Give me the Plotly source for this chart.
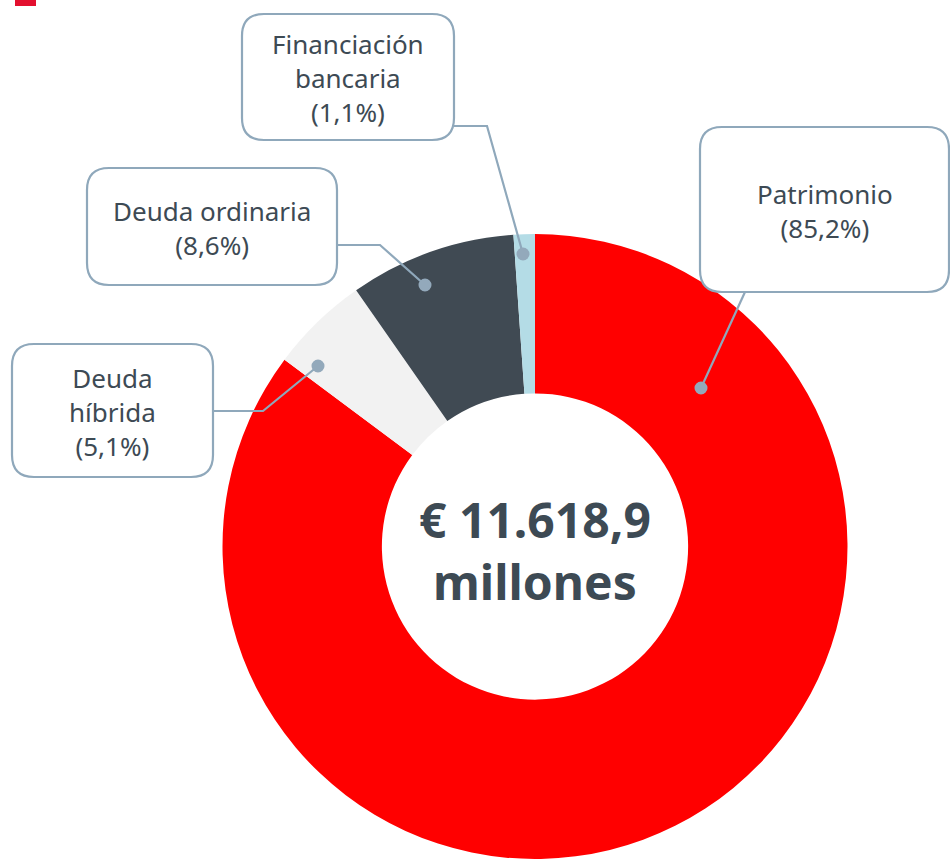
import plotly.graph_objects as go

# ---- data ----
categories = ["Patrimonio", "Deuda híbrida", "Deuda ordinaria", "Financiación bancaria"]
label_names = ["Patrimonio", "Deuda<br>híbrida", "Deuda ordinaria", "Financiación<br>bancaria"]
shares = [85.2, 5.1, 8.6, 1.1]
colors = ["#ff0000", "#f2f2f2", "#404a53", "#b4dce6"]
center_lines = ["€ 11.618,9", "millones"]

W, H = 950, 859
TXT = "#3d4a54"
EDGE = "#8fa8bb"
FONT = "Noto Sans"

fig = go.Figure()

# donut (domain in paper coords)
cx, r = 535, 312.5
fig.add_trace(go.Pie(
    labels=categories, values=shares, sort=False, direction="clockwise",
    rotation=0, hole=0.49, marker=dict(colors=colors, line=dict(width=0)),
    textinfo="none", hoverinfo="skip", showlegend=False,
    domain=dict(x=[(cx - r) / W, (cx + r) / W], y=[0, 2 * r / H]),
))

# invisible pixel-space axes for decorations
fig.add_trace(go.Scatter(x=[0, W], y=[0, H], mode="markers",
                         marker=dict(opacity=0), hoverinfo="skip", showlegend=False))


def rrect(x0, y0, x1, y1, rad=22):
    return (f"M {x0+rad},{y0} L {x1-rad},{y0} Q {x1},{y0} {x1},{y0+rad} "
            f"L {x1},{y1-rad} Q {x1},{y1} {x1-rad},{y1} L {x0+rad},{y1} "
            f"Q {x0},{y1} {x0},{y1-rad} L {x0},{y0+rad} Q {x0},{y0} {x0+rad},{y0} Z")


# label boxes: (x0, y0, x1, y1), connector polyline, dot
boxes = [
    (700, 127, 949, 292),   # Patrimonio
    (12, 344, 213, 477),    # Deuda híbrida
    (87, 168, 337, 285),    # Deuda ordinaria
    (242, 14, 454, 140),    # Financiación bancaria
]
connectors = [
    [(745, 292), (701, 388)],
    [(213, 411), (263, 411), (318, 366)],
    [(337, 245), (380, 245), (425, 285)],
    [(454, 126), (487, 126), (523, 254)],
]

shapes = []
# top-left red mark
shapes.append(dict(type="rect", xref="x", yref="y", x0=15, x1=36, y0=0, y1=6,
                   fillcolor="#e3102f", line=dict(width=0), layer="above"))
for (x0, y0, x1, y1) in boxes:
    shapes.append(dict(type="path", xref="x", yref="y", path=rrect(x0, y0, x1, y1),
                       fillcolor="white", line=dict(color=EDGE, width=2.2), layer="above"))
for pts in connectors:
    p = "M " + " L ".join(f"{x},{y}" for x, y in pts)
    shapes.append(dict(type="path", xref="x", yref="y", path=p,
                       line=dict(color=EDGE, width=2.2), layer="above"))
    dx, dy = pts[-1]
    shapes.append(dict(type="circle", xref="x", yref="y", x0=dx - 6.5, x1=dx + 6.5,
                       y0=dy - 6.5, y1=dy + 6.5, fillcolor="#93a9bb",
                       line=dict(width=0), layer="above"))

annotations = []
for name, val, (x0, y0, x1, y1) in zip(label_names, shares, boxes):
    txt = f"{name}<br>({val:.1f}%)".replace(".", ",")
    annotations.append(dict(x=(x0 + x1) / 2, y=(y0 + y1) / 2 + 1, xref="x", yref="y",
                            text=txt, showarrow=False, xanchor="center", yanchor="middle",
                            font=dict(family=FONT, size=26, color=TXT)))

annotations.append(dict(x=535, y=550, xref="x", yref="y",
                        text="<br>".join(f"<b>{t}</b>" for t in center_lines),
                        showarrow=False, xanchor="center", yanchor="middle",
                        font=dict(family=FONT, size=48, color=TXT)))

fig.update_layout(
    width=W, height=H, margin=dict(l=0, r=0, t=0, b=0),
    paper_bgcolor="white", plot_bgcolor="rgba(0,0,0,0)",
    xaxis=dict(range=[0, W], visible=False, domain=[0, 1], fixedrange=True),
    yaxis=dict(range=[H, 0], visible=False, domain=[0, 1], fixedrange=True),
    shapes=shapes, annotations=annotations, showlegend=False,
)

fig.write_html("out.html", config={"displayModeBar": False},
               post_script="document.body.style.margin='0';document.body.style.overflow='hidden';")
